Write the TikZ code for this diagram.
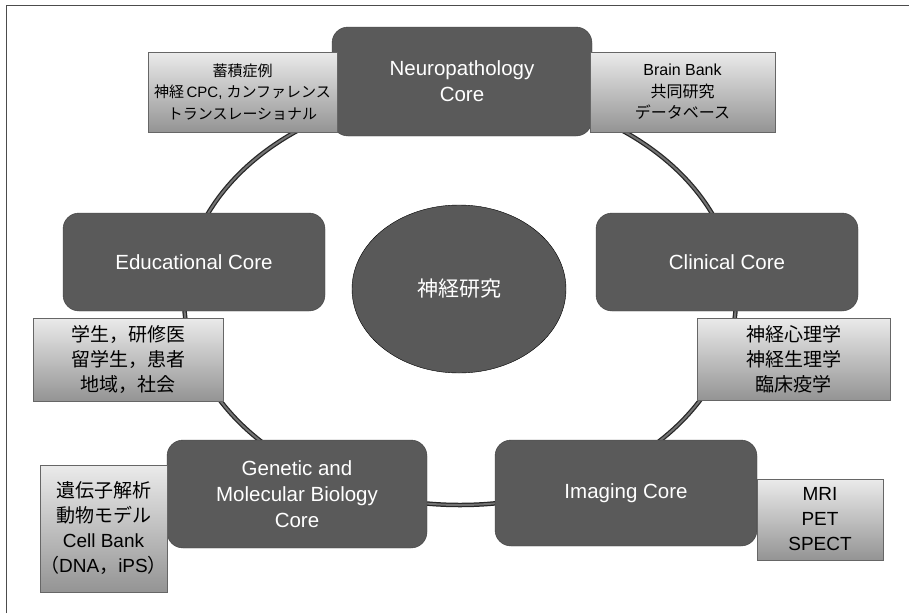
\documentclass[tikz,border=0pt]{standalone}
\usepackage{fontspec}
\setmainfont{Liberation Sans}
\newfontfamily\jp{Noto Sans CJK JP}
\usetikzlibrary{shapes.geometric}
\definecolor{coregray}{HTML}{5A5A5A}
\begin{document}
\begin{tikzpicture}[x=1pt, y=-1pt,
  core/.style={draw=black!75, fill=coregray, rounded corners=16pt, text=white, align=center,
    inner sep=0pt, font=\fontsize{20.5}{26}\selectfont},
  note/.style={draw=black!60, top color=black!8, bottom color=black!42, align=center,
    inner sep=0pt, font=\fontsize{19}{25}\selectfont},
  topnote/.style={note, font=\fontsize{16}{21.5}\selectfont}]

\useasboundingbox (0,0) rectangle (909,613);
\draw[black!70, line width=0.8] (6,613) -- (6,5) -- (909,5);

\draw[black!85, line width=4.5] (460,298) ellipse (276 and 207);
\draw[black!55, line width=2] (460,298) ellipse (276 and 207);

\node[ellipse, draw=black, fill=black!65, minimum width=214, minimum height=168, text=white,
  font=\jp\fontsize{21}{26}\selectfont] (research) at (459,289) {神経研究};

\node[core, minimum width=260, minimum height=109] (neuro) at (462,81.5) {Neuropathology\\Core};
\node[core, minimum width=262, minimum height=98] (edu) at (194,262) {Educational Core};
\node[core, minimum width=262, minimum height=98] (clin) at (727,262) {Clinical Core};
\node[core, minimum width=260, minimum height=108] (gen) at (297,494) {Genetic and\\Molecular Biology\\Core};
\node[core, minimum width=262, minimum height=106] (img) at (626,493) {Imaging Core};

\node[topnote, minimum width=189, minimum height=80, font=\fontsize{15}{21.5}\selectfont] (cases) at (242.5,92)
  {{\jp 蓄積症例}\\{\jp 神経}\,CPC, {\jp カンファレンス}\\{\jp トランスレーショナル}};
\node[topnote, minimum width=185, minimum height=80] (bank) at (682.5,92)
  {Brain Bank\\{\jp 共同研究}\\{\jp データベース}};
\node[note, minimum width=190, minimum height=83] (students) at (128,359.5)
  {{\jp 学生，研修医}\\{\jp 留学生，患者}\\{\jp 地域，社会}};
\node[note, minimum width=193, minimum height=82] (psych) at (793.5,359)
  {{\jp 神経心理学}\\{\jp 神経生理学}\\{\jp 臨床疫学}};
\node[note, minimum width=127, minimum height=127] (genes) at (103.5,528.5)
  {{\jp 遺伝子解析}\\{\jp 動物モデル}\\Cell Bank\\{\jp （}DNA{\jp ，}iPS{\jp ）}};
\node[note, minimum width=126, minimum height=81] (scans) at (820,519.5)
  {MRI\\PET\\SPECT};
\end{tikzpicture}
\end{document}
